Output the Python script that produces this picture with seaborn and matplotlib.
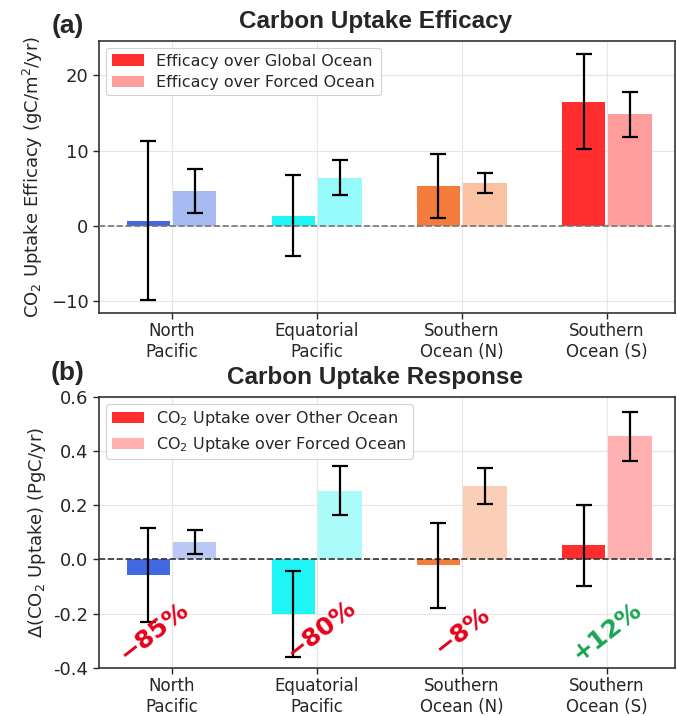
import numpy as np
import pandas as pd
import seaborn as sns
import matplotlib
matplotlib.use("Agg")
import matplotlib.pyplot as plt
from matplotlib.patches import Patch
from matplotlib.colors import to_rgb

# ---------------- data ----------------
regions = ["North\nPacific", "Equatorial\nPacific", "Southern\nOcean (N)", "Southern\nOcean (S)"]

eff_global = [0.7, 1.35, 5.3, 16.5]
eff_global_err = [10.55, 5.4, 4.3, 6.3]
eff_forced = [4.6, 6.4, 5.7, 14.8]
eff_forced_err = [2.9, 2.3, 1.35, 2.95]

resp_other = [-0.057, -0.202, -0.022, 0.052]
resp_other_err = [0.173, 0.158, 0.156, 0.148]
resp_forced = [0.066, 0.254, 0.270, 0.454]
resp_forced_err = [0.044, 0.090, 0.066, 0.090]

change_labels = ["−85%", "−80%", "−8%", "+12%"]
change_x_offset = [-0.12, 0.03, 0.0, 0.0]
change_y = [-0.265, -0.26, -0.265, -0.265]
change_colors = ["#e8001c", "#e8001c", "#e8001c", "#1aa654"]

region_colors = ["#4169e1", "#1ff5f5", "#f47c3c", "#ff2d2d"]

# ---------------- style ----------------
sns.set_style("white")
plt.rcParams["font.family"] = ["DejaVu Sans"]


def lighten(c, a):
    r = np.array(to_rgb(c))
    return tuple(a * r + (1 - a) * np.ones(3))


def panel(ax, v1, e1, v2, e2, lab1, lab2, alpha_light, ylim, yticks, ylabel,
          zero_color):
    df = pd.DataFrame({
        "region": regions * 2,
        "value": v1 + v2,
        "series": [lab1] * 4 + [lab2] * 4,
    })
    sns.barplot(data=df, x="region", y="value", hue="series", order=regions,
                hue_order=[lab1, lab2], dodge=True, width=0.64, gap=0.0625,
                errorbar=None, legend=False, ax=ax, zorder=2, linewidth=0)
    light = [lighten(c, alpha_light) for c in region_colors]
    for cont, cols, errs in ((ax.containers[0], region_colors, e1),
                             (ax.containers[1], light, e2)):
        xs = []
        for i, bar in enumerate(cont):
            bar.set_facecolor(cols[i])
            bar.set_edgecolor("none")
            xs.append(bar.get_x() + bar.get_width() / 2)
        vals = [b.get_y() + b.get_height() for b in cont]
        ax.errorbar(xs, vals, yerr=errs, fmt="none", ecolor="black",
                    elinewidth=1.6, capsize=6, capthick=1.6, zorder=4)
    ax.axhline(0, color=zero_color, ls="--", lw=1.2, zorder=3)
    ax.set_xlim(-0.5, 3.47)
    ax.set_ylim(*ylim)
    ax.set_yticks(yticks)
    ax.grid(True, color="#e6e6e6", lw=0.8)
    ax.set_axisbelow(True)
    ax.set_xlabel("")
    ax.set_ylabel(ylabel, fontsize=13)
    ax.tick_params(axis="x", labelsize=12, length=4, width=1, pad=2.5,
                   direction="out", bottom=True)
    ax.tick_params(axis="y", labelsize=13, length=4, width=1, direction="out", left=True)
    for s in ax.spines.values():
        s.set_visible(True)
        s.set_color("#333333")
        s.set_linewidth(1.2)
    handles = [Patch(facecolor=region_colors[3], edgecolor="none", label=lab1),
               Patch(facecolor=light[3], edgecolor="none", label=lab2)]
    leg = ax.legend(handles=handles, loc="upper left", fontsize=11.5,
                    frameon=True, framealpha=0.9, edgecolor="#cccccc",
                    borderpad=0.35, labelspacing=0.4, handlelength=2.0,
                    borderaxespad=0.45)
    leg.get_frame().set_linewidth(0.8)


fig = plt.figure(figsize=(6.77, 7.16), dpi=100)
ax1 = fig.add_axes([0.1462, 0.5628, 0.8508, 0.3803])
ax2 = fig.add_axes([0.1462, 0.0670, 0.8508, 0.3790])

panel(ax1, eff_global, eff_global_err, eff_forced, eff_forced_err,
      "Efficacy over Global Ocean", "Efficacy over Forced Ocean", 0.47,
      (-11.6, 24.6), [-10, 0, 10, 20],
      "CO$_2$ Uptake Efficacy (gC/m$^2$/yr)", "#777777")

panel(ax2, resp_other, resp_other_err, resp_forced, resp_forced_err,
      "CO$_2$ Uptake over Other Ocean", "CO$_2$ Uptake over Forced Ocean", 0.37,
      (-0.4, 0.6), [-0.4, -0.2, 0.0, 0.2, 0.4, 0.6],
      "Δ(CO$_2$ Uptake) (PgC/yr)", "#333333")
ax2.yaxis.set_major_formatter(matplotlib.ticker.FormatStrFormatter("%.1f"))

for i, lab in enumerate(change_labels):
    ax2.text(i + change_x_offset[i], change_y[i], lab, color=change_colors[i],
             fontsize=18, fontweight="semibold", rotation=38, ha="center", va="center",
             zorder=5)

ax1.text(0.48, 1.047, "Carbon Uptake Efficacy", transform=ax1.transAxes,
         ha="center", va="baseline", fontsize=17.5, fontweight="bold",
         family=["Liberation Sans", "DejaVu Sans"])
ax2.text(0.48, 1.047, "Carbon Uptake Response", transform=ax2.transAxes,
         ha="center", va="baseline", fontsize=17.5, fontweight="bold",
         family=["Liberation Sans", "DejaVu Sans"])

fig.text(0.100, 1 - 26 / 716, "(a)", fontsize=19, fontweight="bold",
         ha="center", va="center", family=["Liberation Sans", "DejaVu Sans"])
fig.text(0.100, 1 - 373 / 716, "(b)", fontsize=19, fontweight="bold",
         ha="center", va="center", family=["Liberation Sans", "DejaVu Sans"])

fig.savefig("out.png", dpi=100)
